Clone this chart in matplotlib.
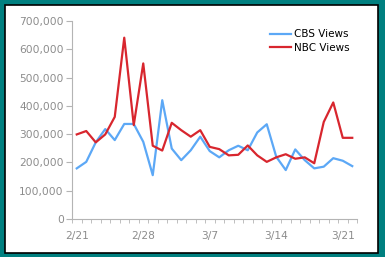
import matplotlib
matplotlib.use("Agg")
import matplotlib.pyplot as plt
from matplotlib.patches import Rectangle
from matplotlib.ticker import FuncFormatter

# daily views, 2/21 .. 3/22
days = list(range(30))
tick_pos = [0, 7, 14, 21, 28]
tick_labels = ["2/21", "2/28", "3/7", "3/14", "3/21"]
cbs_views = [179000, 202000, 271000, 318000, 279000, 336000, 336000, 273000, 155000, 420000,
             249000, 208000, 243000, 291000, 240000, 218000, 243000, 259000, 243000, 306000,
             335000, 220000, 173000, 246000, 208000, 179000, 185000, 215000, 206000, 187000]
nbc_views = [299000, 311000, 271000, 299000, 361000, 641000, 332000, 550000, 259000, 242000,
             340000, 314000, 291000, 314000, 255000, 247000, 225000, 227000, 260000, 225000,
             202000, 218000, 229000, 213000, 218000, 197000, 343000, 412000, 287000, 287000]

fig = plt.figure(figsize=(3.85, 2.57), dpi=100, facecolor="#008080")
fig.add_artist(Rectangle((4.5/385, 4.5/257), 373/385, 248/257, transform=fig.transFigure,
                         facecolor="white", edgecolor="black", linewidth=1.2, zorder=-10))

ax = fig.add_axes([72/385, 1-219/257, 285/385, 198/257])
ax.set_zorder(1)
ax.set_facecolor("none")
ax.plot(days, cbs_views, color="#5ca8f6", lw=1.6, label="CBS Views")
ax.plot(days, nbc_views, color="#d8262e", lw=1.6, label="NBC Views")

ax.set_xlim(-0.5, 29.5)
ax.set_ylim(0, 700000)
ax.set_yticks(range(0, 700001, 100000))
ax.yaxis.set_major_formatter(FuncFormatter(lambda v, p: "{:,}".format(int(v))))
ax.set_xticks(tick_pos)
ax.set_xticklabels(tick_labels)
ax.set_xticks([d - 0.5 for d in range(31)], minor=True)

gray = "#b4b4b4"
for s in ["top", "right"]:
    ax.spines[s].set_visible(False)
for s in ["left", "bottom"]:
    ax.spines[s].set_color(gray)
ax.tick_params(axis="y", colors=gray, labelcolor="#8c8c8c", labelsize=7.7, length=4, pad=2)
ax.tick_params(axis="x", which="major", length=0, labelcolor="#8c8c8c", labelsize=7.7, pad=9)
ax.tick_params(axis="x", which="minor", colors=gray, length=3)

ax.legend(loc="upper right", bbox_to_anchor=(355/385, 1-24/257), bbox_transform=fig.transFigure,
          frameon=False, fontsize=7.5, handlelength=2.0, handletextpad=0.3,
          labelspacing=0.35, borderpad=0)

fig.savefig("out.png", dpi=100, facecolor=fig.get_facecolor())
